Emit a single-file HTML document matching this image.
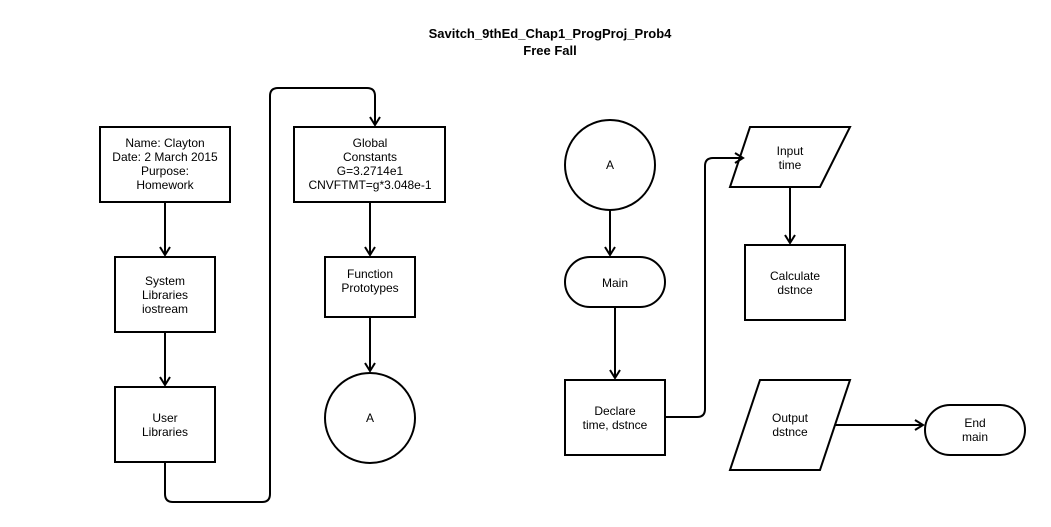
<!DOCTYPE html>
<html><head><style>body{margin:0;background:#fff}svg{display:block}</style></head><body>
<svg width="1051" height="527" xmlns="http://www.w3.org/2000/svg" font-family="Liberation Sans, sans-serif" font-size="12" fill="#000">
<defs><marker id="a" markerWidth="12" markerHeight="12" refX="10" refY="6" orient="auto" markerUnits="userSpaceOnUse"><path d="M2,1 L10,6 L2,11" fill="none" stroke="#000" stroke-width="2"/></marker></defs>
<text x="550" y="38" text-anchor="middle" font-weight="bold" font-size="13">Savitch_9thEd_Chap1_ProgProj_Prob4</text>
<text x="550" y="55" text-anchor="middle" font-weight="bold" font-size="13">Free Fall</text>
<g fill="#fff" stroke="#000" stroke-width="2">
<rect x="100" y="127" width="130" height="75"/>
<rect x="115" y="257" width="100" height="75"/>
<rect x="115" y="387" width="100" height="75"/>
<rect x="294" y="127" width="151" height="75"/>
<rect x="325" y="257" width="90" height="60"/>
<circle cx="370" cy="418" r="45"/>
<circle cx="610" cy="165" r="45"/>
<rect x="565" y="257" width="100" height="50" rx="25"/>
<rect x="565" y="380" width="100" height="75"/>
<polygon points="750,127 850,127 820,187 730,187"/>
<rect x="745" y="245" width="100" height="75"/>
<polygon points="760,380 850,380 820,470 730,470"/>
<rect x="925" y="405" width="100" height="50" rx="25"/>
</g>
<g fill="none" stroke="#000" stroke-width="2" marker-end="url(#a)">
<path d="M165,202 V255"/><path d="M165,332 V385"/>
<path d="M165,462 V494 Q165,502 173,502 H262 Q270,502 270,494 V96 Q270,88 278,88 H367 Q375,88 375,96 V125"/>
<path d="M370,202 V255"/><path d="M370,317 V371"/>
<path d="M610,210 V255"/><path d="M615,307 V378"/>
<path d="M665,417 H697 Q705,417 705,409 V166 Q705,158 713,158 H743"/>
<path d="M790,187 V243"/><path d="M835,425 H923"/>
</g>
<g text-anchor="middle">
<text x="165" y="147">Name: Clayton</text><text x="165" y="161">Date: 2 March 2015</text><text x="165" y="175">Purpose:</text><text x="165" y="189">Homework</text>
<text x="165" y="285">System</text><text x="165" y="299">Libraries</text><text x="165" y="313">iostream</text>
<text x="165" y="422">User</text><text x="165" y="436">Libraries</text>
<text x="370" y="147">Global</text><text x="370" y="161">Constants</text><text x="370" y="175">G=3.2714e1</text><text x="370" y="189">CNVFTMT=g*3.048e-1</text>
<text x="370" y="278">Function</text><text x="370" y="292">Prototypes</text>
<text x="370" y="422">A</text>
<text x="610" y="169">A</text>
<text x="615" y="287">Main</text>
<text x="615" y="415">Declare</text><text x="615" y="429">time, dstnce</text>
<text x="790" y="155">Input</text><text x="790" y="169">time</text>
<text x="795" y="280">Calculate</text><text x="795" y="294">dstnce</text>
<text x="790" y="422">Output</text><text x="790" y="436">dstnce</text>
<text x="975" y="427">End</text><text x="975" y="441">main</text>
</g>
</svg>
</body></html>
